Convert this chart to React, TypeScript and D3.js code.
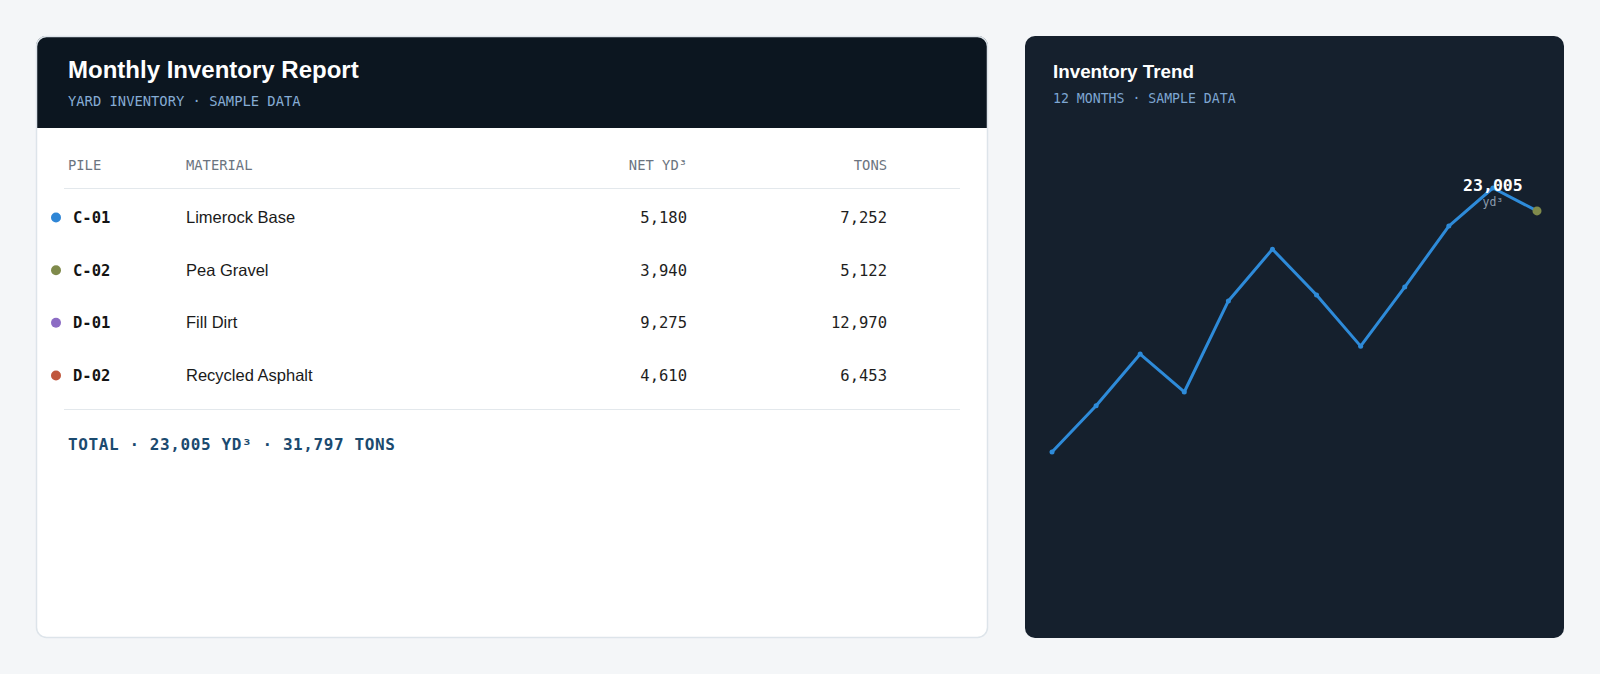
import { useMemo } from "react";
import * as d3 from "d3";

const piles = ["C-01", "C-02", "D-01", "D-02"];
const materials = ["Limerock Base", "Pea Gravel", "Fill Dirt", "Recycled Asphalt"];
const netYd = [5180, 3940, 9275, 4610];
const tons = [7252, 5122, 12970, 6453];
const pileColors = ["#2f86d6", "#7f8a4b", "#8c6cc4", "#c0573d"];

const months = ["M1", "M2", "M3", "M4", "M5", "M6", "M7", "M8", "M9", "M10", "M11", "M12"];
const trend = [15000, 16400, 17970, 16820, 19580, 21150, 19760, 18210, 20000, 21850, 23005, 22310];

const W = 1600;
const H = 674;
const SANS = "'Liberation Sans', Arial, sans-serif";
const MONO = "'DejaVu Sans Mono', monospace";

const fmt = d3.format(",");

export default function App() {
  const rowY = useMemo(
    () => d3.scalePoint<string>().domain(piles).range([223, 381]),
    [],
  );

  const x = useMemo(
    () => d3.scalePoint<string>().domain(months).range([1052, 1537]),
    [],
  );
  const y = useMemo(
    () =>
      d3
        .scaleLinear()
        .domain(d3.extent(trend) as [number, number])
        .range([452, 188]),
    [],
  );

  const line = d3
    .line<number>()
    .x((_, i) => x(months[i])!)
    .y((d) => y(d));

  const totalYd = d3.sum(netYd);
  const totalTons = d3.sum(tons);
  const peak = d3.maxIndex(trend);
  const last = trend.length - 1;

  return (
    <div style={{ position: "fixed", left: 0, top: 0, width: W, height: H, background: "#f4f6f8" }}>
      <svg width={W} height={H} style={{ display: "block" }}>
        <defs>
          <clipPath id="leftCard">
            <rect x={36} y={36} width={952} height={602} rx={10} />
          </clipPath>
        </defs>

        {/* Left card: table */}
        <rect x={36} y={36} width={952} height={602} rx={10} fill="#ffffff" />
        <g clipPath="url(#leftCard)">
          <rect x={36} y={36} width={952} height={92} fill="#0c1620" />
        </g>
        <rect
          x={36.5}
          y={36.5}
          width={951}
          height={601}
          rx={10}
          fill="none"
          stroke="#dde4ea"
          strokeWidth={1.5}
        />
        <text x={68} y={78} fill="#ffffff" fontFamily={SANS} fontWeight={700} fontSize={24}>
          Monthly Inventory Report
        </text>
        <text x={68} y={106} fill="#86acd4" fontFamily={MONO} fontSize={13.8}>
          YARD INVENTORY · SAMPLE DATA
        </text>

        <g fontFamily={MONO} fontSize={13.8} fill="#6b7480">
          <text x={68} y={170}>PILE</text>
          <text x={186} y={170}>MATERIAL</text>
          <text x={687} y={170} textAnchor="end">NET YD³</text>
          <text x={887} y={170} textAnchor="end">TONS</text>
        </g>
        <line x1={64} x2={960} y1={188.5} y2={188.5} stroke="#e3e8ec" strokeWidth={1.2} />

        {piles.map((p, i) => {
          const by = rowY(p)!;
          return (
            <g key={p}>
              <circle cx={56} cy={by - 5.5} r={5} fill={pileColors[i]} />
              <text x={73} y={by} fontFamily={MONO} fontWeight={700} fontSize={15.5} fill="#141414">
                {p}
              </text>
              <text x={186} y={by} fontFamily={SANS} fontSize={16.5} fill="#1a1a1a">
                {materials[i]}
              </text>
              <text x={687} y={by} textAnchor="end" fontFamily={MONO} fontSize={15.5} fill="#1e1e1e">
                {fmt(netYd[i])}
              </text>
              <text x={887} y={by} textAnchor="end" fontFamily={MONO} fontSize={15.5} fill="#1e1e1e">
                {fmt(tons[i])}
              </text>
            </g>
          );
        })}
        <line x1={64} x2={960} y1={409.5} y2={409.5} stroke="#e3e8ec" strokeWidth={1.2} />
        <text
          x={68}
          y={450}
          fontFamily={MONO}
          fontWeight={700}
          fontSize={16}
          letterSpacing={0.6}
          fill="#1b4a6f"
        >
          {`TOTAL · ${fmt(totalYd)} YD³ · ${fmt(totalTons)} TONS`}
        </text>

        {/* Right card: trend */}
        <rect x={1025} y={36} width={539} height={602} rx={10} fill="#15202d" />
        <text x={1053} y={78} fill="#ffffff" fontFamily={SANS} fontWeight={700} fontSize={18.8}>
          Inventory Trend
        </text>
        <text x={1053} y={103} fill="#7ea6d2" fontFamily={MONO} fontSize={13.2}>
          12 MONTHS · SAMPLE DATA
        </text>

        <path
          d={line(trend) ?? ""}
          fill="none"
          stroke="#2e8bd9"
          strokeWidth={3}
          strokeLinejoin="round"
          strokeLinecap="round"
        />
        {trend.map((v, i) =>
          i === last ? null : (
            <circle key={i} cx={x(months[i])} cy={y(v)} r={2.5} fill="#2e8bd9" />
          ),
        )}
        <circle cx={x(months[last])} cy={y(trend[last])} r={4.5} fill="#7f8a4b" />

        <text
          x={x(months[peak])}
          y={191}
          textAnchor="middle"
          fontFamily={MONO}
          fontWeight={700}
          fontSize={16.5}
          fill="#ffffff"
        >
          {fmt(totalYd)}
        </text>
        <text
          x={x(months[peak])}
          y={206}
          textAnchor="middle"
          fontFamily={MONO}
          fontSize={11.5}
          fill="#8c9cad"
        >
          yd³
        </text>
      </svg>
    </div>
  );
}
